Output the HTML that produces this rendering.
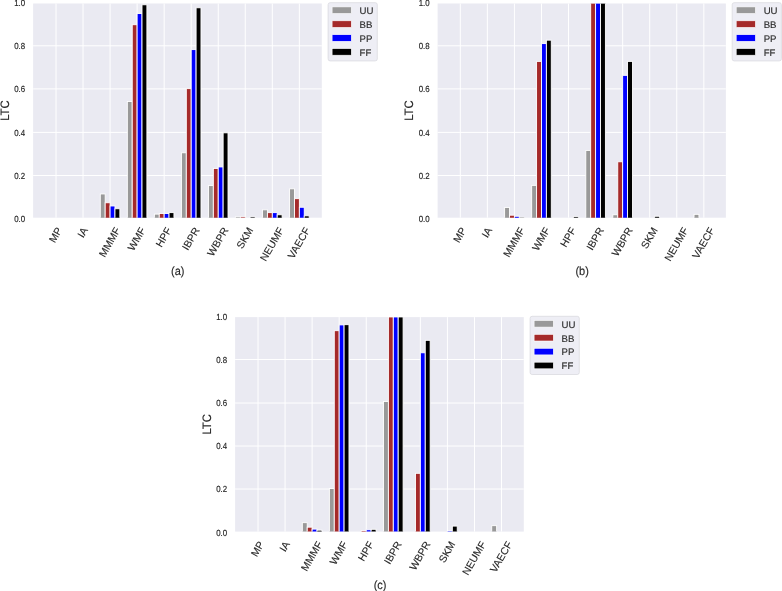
<!DOCTYPE html>
<html><head><meta charset="utf-8"><style>
html,body{margin:0;padding:0;background:#fff;}
svg{display:block;}
text{font-family:"Liberation Sans",sans-serif;fill:#262626;}
svg{will-change:transform;}
text{text-rendering:geometricPrecision;}
text{stroke:#262626;stroke-width:0.12px;}
.tk{stroke-width:0.15px;}
</style></head><body>
<svg width="782" height="591" viewBox="0 0 782 591">
<clipPath id="clipa"><rect x="33.1" y="3.5" width="288.7" height="214.2"/></clipPath>
<rect x="33.1" y="3.5" width="288.7" height="214.2" fill="#EAEAF2"/>
<line x1="33.1" y1="175.5" x2="321.8" y2="175.5" stroke="#fff" stroke-width="1.0"/>
<line x1="33.1" y1="132.4" x2="321.8" y2="132.4" stroke="#fff" stroke-width="1.0"/>
<line x1="33.1" y1="88.9" x2="321.8" y2="88.9" stroke="#fff" stroke-width="1.0"/>
<line x1="33.1" y1="45.8" x2="321.8" y2="45.8" stroke="#fff" stroke-width="1.0"/>
<line x1="56" y1="3.5" x2="56" y2="217.7" stroke="#fff" stroke-width="1.0"/>
<line x1="83.04" y1="3.5" x2="83.04" y2="217.7" stroke="#fff" stroke-width="1.0"/>
<line x1="110.08" y1="3.5" x2="110.08" y2="217.7" stroke="#fff" stroke-width="1.0"/>
<line x1="137.12" y1="3.5" x2="137.12" y2="217.7" stroke="#fff" stroke-width="1.0"/>
<line x1="164.16" y1="3.5" x2="164.16" y2="217.7" stroke="#fff" stroke-width="1.0"/>
<line x1="191.2" y1="3.5" x2="191.2" y2="217.7" stroke="#fff" stroke-width="1.0"/>
<line x1="218.24" y1="3.5" x2="218.24" y2="217.7" stroke="#fff" stroke-width="1.0"/>
<line x1="245.28" y1="3.5" x2="245.28" y2="217.7" stroke="#fff" stroke-width="1.0"/>
<line x1="272.32" y1="3.5" x2="272.32" y2="217.7" stroke="#fff" stroke-width="1.0"/>
<line x1="299.36" y1="3.5" x2="299.36" y2="217.7" stroke="#fff" stroke-width="1.0"/>
<rect x="100.29" y="193.95" width="4.89" height="24.54" fill="#999999" stroke="#fff" stroke-width="0.9" clip-path="url(#clipa)"/>
<rect x="105.19" y="202.75" width="4.89" height="15.75" fill="#A52A2A" stroke="#fff" stroke-width="0.9" clip-path="url(#clipa)"/>
<rect x="110.08" y="205.97" width="4.89" height="12.53" fill="#0000FF" stroke="#fff" stroke-width="0.9" clip-path="url(#clipa)"/>
<rect x="114.97" y="208.76" width="4.89" height="9.74" fill="#000000" stroke="#fff" stroke-width="0.9" clip-path="url(#clipa)"/>
<rect x="127.33" y="101.51" width="4.89" height="116.99" fill="#999999" stroke="#fff" stroke-width="0.9" clip-path="url(#clipa)"/>
<rect x="132.23" y="24.71" width="4.89" height="193.79" fill="#A52A2A" stroke="#fff" stroke-width="0.9" clip-path="url(#clipa)"/>
<rect x="137.12" y="13.56" width="4.89" height="204.94" fill="#0000FF" stroke="#fff" stroke-width="0.9" clip-path="url(#clipa)"/>
<rect x="142.01" y="4.77" width="4.89" height="213.73" fill="#000000" stroke="#fff" stroke-width="0.9" clip-path="url(#clipa)"/>
<rect x="154.37" y="214.12" width="4.89" height="4.38" fill="#999999" stroke="#fff" stroke-width="0.9" clip-path="url(#clipa)"/>
<rect x="159.27" y="213.47" width="4.89" height="5.03" fill="#A52A2A" stroke="#fff" stroke-width="0.9" clip-path="url(#clipa)"/>
<rect x="164.16" y="213.47" width="4.89" height="5.03" fill="#0000FF" stroke="#fff" stroke-width="0.9" clip-path="url(#clipa)"/>
<rect x="169.05" y="212.62" width="4.89" height="5.88" fill="#000000" stroke="#fff" stroke-width="0.9" clip-path="url(#clipa)"/>
<rect x="181.41" y="152.77" width="4.89" height="65.73" fill="#999999" stroke="#fff" stroke-width="0.9" clip-path="url(#clipa)"/>
<rect x="186.31" y="88.64" width="4.89" height="129.86" fill="#A52A2A" stroke="#fff" stroke-width="0.9" clip-path="url(#clipa)"/>
<rect x="191.2" y="49.6" width="4.89" height="168.9" fill="#0000FF" stroke="#fff" stroke-width="0.9" clip-path="url(#clipa)"/>
<rect x="196.09" y="7.77" width="4.89" height="210.73" fill="#000000" stroke="#fff" stroke-width="0.9" clip-path="url(#clipa)"/>
<rect x="208.45" y="185.59" width="4.89" height="32.91" fill="#999999" stroke="#fff" stroke-width="0.9" clip-path="url(#clipa)"/>
<rect x="213.35" y="168.43" width="4.89" height="50.07" fill="#A52A2A" stroke="#fff" stroke-width="0.9" clip-path="url(#clipa)"/>
<rect x="218.24" y="166.93" width="4.89" height="51.57" fill="#0000FF" stroke="#fff" stroke-width="0.9" clip-path="url(#clipa)"/>
<rect x="223.13" y="132.82" width="4.89" height="85.68" fill="#000000" stroke="#fff" stroke-width="0.9" clip-path="url(#clipa)"/>
<rect x="235.49" y="216.91" width="4.89" height="1.59" fill="#999999" stroke="#fff" stroke-width="0.9" clip-path="url(#clipa)"/>
<rect x="240.39" y="216.91" width="4.89" height="1.59" fill="#A52A2A" stroke="#fff" stroke-width="0.9" clip-path="url(#clipa)"/>
<rect x="250.17" y="216.91" width="4.89" height="1.59" fill="#000000" stroke="#fff" stroke-width="0.9" clip-path="url(#clipa)"/>
<rect x="262.53" y="209.83" width="4.89" height="8.67" fill="#999999" stroke="#fff" stroke-width="0.9" clip-path="url(#clipa)"/>
<rect x="267.43" y="212.62" width="4.89" height="5.88" fill="#A52A2A" stroke="#fff" stroke-width="0.9" clip-path="url(#clipa)"/>
<rect x="272.32" y="212.62" width="4.89" height="5.88" fill="#0000FF" stroke="#fff" stroke-width="0.9" clip-path="url(#clipa)"/>
<rect x="277.21" y="214.76" width="4.89" height="3.74" fill="#000000" stroke="#fff" stroke-width="0.9" clip-path="url(#clipa)"/>
<rect x="289.57" y="188.81" width="4.89" height="29.69" fill="#999999" stroke="#fff" stroke-width="0.9" clip-path="url(#clipa)"/>
<rect x="294.47" y="198.67" width="4.89" height="19.83" fill="#A52A2A" stroke="#fff" stroke-width="0.9" clip-path="url(#clipa)"/>
<rect x="299.36" y="207.25" width="4.89" height="11.25" fill="#0000FF" stroke="#fff" stroke-width="0.9" clip-path="url(#clipa)"/>
<rect x="304.25" y="215.83" width="4.89" height="2.67" fill="#000000" stroke="#fff" stroke-width="0.9" clip-path="url(#clipa)"/>
<text transform="translate(25.1,221.69) scale(0.94,1.06)" text-anchor="end" font-size="8.4" class="tk">0.0</text>
<text transform="translate(25.1,178.69) scale(0.94,1.06)" text-anchor="end" font-size="8.4" class="tk">0.2</text>
<text transform="translate(25.1,135.59) scale(0.94,1.06)" text-anchor="end" font-size="8.4" class="tk">0.4</text>
<text transform="translate(25.1,92.09) scale(0.94,1.06)" text-anchor="end" font-size="8.4" class="tk">0.6</text>
<text transform="translate(25.1,48.99) scale(0.94,1.06)" text-anchor="end" font-size="8.4" class="tk">0.8</text>
<text transform="translate(25.1,5.99) scale(0.94,1.06)" text-anchor="end" font-size="8.4" class="tk">1.0</text>
<text transform="translate(55.4,234.92) rotate(-60)" x="0" y="3.72" text-anchor="middle" font-size="10.4">MP</text>
<text transform="translate(82.44,232.42) rotate(-60)" x="0" y="3.72" text-anchor="middle" font-size="10.4">IA</text>
<text transform="translate(109.48,242.17) rotate(-60)" x="0" y="3.72" text-anchor="middle" font-size="10.4">MMMF</text>
<text transform="translate(136.52,238.91) rotate(-60)" x="0" y="3.72" text-anchor="middle" font-size="10.4">WMF</text>
<text transform="translate(163.56,237.17) rotate(-60)" x="0" y="3.72" text-anchor="middle" font-size="10.4">HPF</text>
<text transform="translate(190.6,238.67) rotate(-60)" x="0" y="3.72" text-anchor="middle" font-size="10.4">IBPR</text>
<text transform="translate(217.64,241.67) rotate(-60)" x="0" y="3.72" text-anchor="middle" font-size="10.4">WBPR</text>
<text transform="translate(244.68,237.92) rotate(-60)" x="0" y="3.72" text-anchor="middle" font-size="10.4">SKM</text>
<text transform="translate(271.72,244.17) rotate(-60)" x="0" y="3.72" text-anchor="middle" font-size="10.4">NEUMF</text>
<text transform="translate(298.76,242.84) rotate(-60)" x="0" y="3.72" text-anchor="middle" font-size="10.4">VAECF</text>
<text transform="translate(8.7,110.6) rotate(-90) scale(1,1.08)" x="0" y="0" text-anchor="middle" font-size="11.3">LTC</text>
<rect x="328.1" y="2.7" width="49.2" height="58.2" rx="2" fill="#EEEEF5" stroke="#DADADF" stroke-width="0.8"/>
<rect x="332.1" y="6.9" width="19.2" height="6.6" fill="#999999" stroke="#fff" stroke-width="0.6"/>
<text x="359.6" y="14" font-size="9.6">UU</text>
<rect x="332.1" y="20.8" width="19.2" height="6.6" fill="#A52A2A" stroke="#fff" stroke-width="0.6"/>
<text x="359.6" y="27.9" font-size="9.6">BB</text>
<rect x="332.1" y="34.7" width="19.2" height="6.6" fill="#0000FF" stroke="#fff" stroke-width="0.6"/>
<text x="359.6" y="41.8" font-size="9.6">PP</text>
<rect x="332.1" y="48.6" width="19.2" height="6.6" fill="#000000" stroke="#fff" stroke-width="0.6"/>
<text x="359.6" y="55.7" font-size="9.6">FF</text>
<text transform="translate(177.7,275.2) scale(1,1.08)" text-anchor="middle" font-size="11.0">(a)</text>
<clipPath id="clipb"><rect x="437.6" y="3.5" width="288.3" height="214.2"/></clipPath>
<rect x="437.6" y="3.5" width="288.3" height="214.2" fill="#EAEAF2"/>
<line x1="437.6" y1="175.5" x2="725.9" y2="175.5" stroke="#fff" stroke-width="1.0"/>
<line x1="437.6" y1="132.4" x2="725.9" y2="132.4" stroke="#fff" stroke-width="1.0"/>
<line x1="437.6" y1="88.9" x2="725.9" y2="88.9" stroke="#fff" stroke-width="1.0"/>
<line x1="437.6" y1="45.8" x2="725.9" y2="45.8" stroke="#fff" stroke-width="1.0"/>
<line x1="460.3" y1="3.5" x2="460.3" y2="217.7" stroke="#fff" stroke-width="1.0"/>
<line x1="487.36" y1="3.5" x2="487.36" y2="217.7" stroke="#fff" stroke-width="1.0"/>
<line x1="514.42" y1="3.5" x2="514.42" y2="217.7" stroke="#fff" stroke-width="1.0"/>
<line x1="541.48" y1="3.5" x2="541.48" y2="217.7" stroke="#fff" stroke-width="1.0"/>
<line x1="568.54" y1="3.5" x2="568.54" y2="217.7" stroke="#fff" stroke-width="1.0"/>
<line x1="595.6" y1="3.5" x2="595.6" y2="217.7" stroke="#fff" stroke-width="1.0"/>
<line x1="622.66" y1="3.5" x2="622.66" y2="217.7" stroke="#fff" stroke-width="1.0"/>
<line x1="649.72" y1="3.5" x2="649.72" y2="217.7" stroke="#fff" stroke-width="1.0"/>
<line x1="676.78" y1="3.5" x2="676.78" y2="217.7" stroke="#fff" stroke-width="1.0"/>
<line x1="703.84" y1="3.5" x2="703.84" y2="217.7" stroke="#fff" stroke-width="1.0"/>
<rect x="504.62" y="207.47" width="4.9" height="11.03" fill="#999999" stroke="#fff" stroke-width="0.9" clip-path="url(#clipb)"/>
<rect x="509.52" y="215.19" width="4.9" height="3.31" fill="#A52A2A" stroke="#fff" stroke-width="0.9" clip-path="url(#clipb)"/>
<rect x="514.42" y="216.26" width="4.9" height="2.24" fill="#0000FF" stroke="#fff" stroke-width="0.9" clip-path="url(#clipb)"/>
<rect x="519.32" y="217.34" width="4.9" height="1.16" fill="#000000" stroke="#fff" stroke-width="0.9" clip-path="url(#clipb)"/>
<rect x="531.68" y="185.38" width="4.9" height="33.12" fill="#999999" stroke="#fff" stroke-width="0.9" clip-path="url(#clipb)"/>
<rect x="536.58" y="61.39" width="4.9" height="157.11" fill="#A52A2A" stroke="#fff" stroke-width="0.9" clip-path="url(#clipb)"/>
<rect x="541.48" y="43.59" width="4.9" height="174.91" fill="#0000FF" stroke="#fff" stroke-width="0.9" clip-path="url(#clipb)"/>
<rect x="546.38" y="40.16" width="4.9" height="178.34" fill="#000000" stroke="#fff" stroke-width="0.9" clip-path="url(#clipb)"/>
<rect x="573.44" y="216.69" width="4.9" height="1.81" fill="#000000" stroke="#fff" stroke-width="0.9" clip-path="url(#clipb)"/>
<rect x="585.8" y="150.41" width="4.9" height="68.09" fill="#999999" stroke="#fff" stroke-width="0.9" clip-path="url(#clipb)"/>
<rect x="590.7" y="3.05" width="4.9" height="215.45" fill="#A52A2A" stroke="#fff" stroke-width="0.9" clip-path="url(#clipb)"/>
<rect x="595.6" y="3.05" width="4.9" height="215.45" fill="#0000FF" stroke="#fff" stroke-width="0.9" clip-path="url(#clipb)"/>
<rect x="600.5" y="3.05" width="4.9" height="215.45" fill="#000000" stroke="#fff" stroke-width="0.9" clip-path="url(#clipb)"/>
<rect x="612.86" y="214.76" width="4.9" height="3.74" fill="#999999" stroke="#fff" stroke-width="0.9" clip-path="url(#clipb)"/>
<rect x="617.76" y="161.78" width="4.9" height="56.72" fill="#A52A2A" stroke="#fff" stroke-width="0.9" clip-path="url(#clipb)"/>
<rect x="622.66" y="75.34" width="4.9" height="143.16" fill="#0000FF" stroke="#fff" stroke-width="0.9" clip-path="url(#clipb)"/>
<rect x="627.56" y="61.39" width="4.9" height="157.11" fill="#000000" stroke="#fff" stroke-width="0.9" clip-path="url(#clipb)"/>
<rect x="654.62" y="216.26" width="4.9" height="2.24" fill="#000000" stroke="#fff" stroke-width="0.9" clip-path="url(#clipb)"/>
<rect x="694.04" y="214.33" width="4.9" height="4.17" fill="#999999" stroke="#fff" stroke-width="0.9" clip-path="url(#clipb)"/>
<text transform="translate(429.6,221.69) scale(0.94,1.06)" text-anchor="end" font-size="8.4" class="tk">0.0</text>
<text transform="translate(429.6,178.69) scale(0.94,1.06)" text-anchor="end" font-size="8.4" class="tk">0.2</text>
<text transform="translate(429.6,135.59) scale(0.94,1.06)" text-anchor="end" font-size="8.4" class="tk">0.4</text>
<text transform="translate(429.6,92.09) scale(0.94,1.06)" text-anchor="end" font-size="8.4" class="tk">0.6</text>
<text transform="translate(429.6,48.99) scale(0.94,1.06)" text-anchor="end" font-size="8.4" class="tk">0.8</text>
<text transform="translate(429.6,5.99) scale(0.94,1.06)" text-anchor="end" font-size="8.4" class="tk">1.0</text>
<text transform="translate(459.7,234.92) rotate(-60)" x="0" y="3.72" text-anchor="middle" font-size="10.4">MP</text>
<text transform="translate(486.76,232.42) rotate(-60)" x="0" y="3.72" text-anchor="middle" font-size="10.4">IA</text>
<text transform="translate(513.82,242.17) rotate(-60)" x="0" y="3.72" text-anchor="middle" font-size="10.4">MMMF</text>
<text transform="translate(540.88,238.91) rotate(-60)" x="0" y="3.72" text-anchor="middle" font-size="10.4">WMF</text>
<text transform="translate(567.94,237.17) rotate(-60)" x="0" y="3.72" text-anchor="middle" font-size="10.4">HPF</text>
<text transform="translate(595,238.67) rotate(-60)" x="0" y="3.72" text-anchor="middle" font-size="10.4">IBPR</text>
<text transform="translate(622.06,241.67) rotate(-60)" x="0" y="3.72" text-anchor="middle" font-size="10.4">WBPR</text>
<text transform="translate(649.12,237.92) rotate(-60)" x="0" y="3.72" text-anchor="middle" font-size="10.4">SKM</text>
<text transform="translate(676.18,244.17) rotate(-60)" x="0" y="3.72" text-anchor="middle" font-size="10.4">NEUMF</text>
<text transform="translate(703.24,242.84) rotate(-60)" x="0" y="3.72" text-anchor="middle" font-size="10.4">VAECF</text>
<text transform="translate(413.2,110.6) rotate(-90) scale(1,1.08)" x="0" y="0" text-anchor="middle" font-size="11.3">LTC</text>
<rect x="732.2" y="2.7" width="49.2" height="58.2" rx="2" fill="#EEEEF5" stroke="#DADADF" stroke-width="0.8"/>
<rect x="736.2" y="6.9" width="19.2" height="6.6" fill="#999999" stroke="#fff" stroke-width="0.6"/>
<text x="763.7" y="14" font-size="9.6">UU</text>
<rect x="736.2" y="20.8" width="19.2" height="6.6" fill="#A52A2A" stroke="#fff" stroke-width="0.6"/>
<text x="763.7" y="27.9" font-size="9.6">BB</text>
<rect x="736.2" y="34.7" width="19.2" height="6.6" fill="#0000FF" stroke="#fff" stroke-width="0.6"/>
<text x="763.7" y="41.8" font-size="9.6">PP</text>
<rect x="736.2" y="48.6" width="19.2" height="6.6" fill="#000000" stroke="#fff" stroke-width="0.6"/>
<text x="763.7" y="55.7" font-size="9.6">FF</text>
<text transform="translate(582.1,275.2) scale(1,1.08)" text-anchor="middle" font-size="11.0">(b)</text>
<clipPath id="clipc"><rect x="235.1" y="317.1" width="288.7" height="214.5"/></clipPath>
<rect x="235.1" y="317.1" width="288.7" height="214.5" fill="#EAEAF2"/>
<line x1="235.1" y1="489" x2="523.8" y2="489" stroke="#fff" stroke-width="1.0"/>
<line x1="235.1" y1="446" x2="523.8" y2="446" stroke="#fff" stroke-width="1.0"/>
<line x1="235.1" y1="403" x2="523.8" y2="403" stroke="#fff" stroke-width="1.0"/>
<line x1="235.1" y1="359.5" x2="523.8" y2="359.5" stroke="#fff" stroke-width="1.0"/>
<line x1="258" y1="317.1" x2="258" y2="531.6" stroke="#fff" stroke-width="1.0"/>
<line x1="285.06" y1="317.1" x2="285.06" y2="531.6" stroke="#fff" stroke-width="1.0"/>
<line x1="312.12" y1="317.1" x2="312.12" y2="531.6" stroke="#fff" stroke-width="1.0"/>
<line x1="339.18" y1="317.1" x2="339.18" y2="531.6" stroke="#fff" stroke-width="1.0"/>
<line x1="366.24" y1="317.1" x2="366.24" y2="531.6" stroke="#fff" stroke-width="1.0"/>
<line x1="393.3" y1="317.1" x2="393.3" y2="531.6" stroke="#fff" stroke-width="1.0"/>
<line x1="420.36" y1="317.1" x2="420.36" y2="531.6" stroke="#fff" stroke-width="1.0"/>
<line x1="447.42" y1="317.1" x2="447.42" y2="531.6" stroke="#fff" stroke-width="1.0"/>
<line x1="474.48" y1="317.1" x2="474.48" y2="531.6" stroke="#fff" stroke-width="1.0"/>
<line x1="501.54" y1="317.1" x2="501.54" y2="531.6" stroke="#fff" stroke-width="1.0"/>
<rect x="302.32" y="522.66" width="4.9" height="9.74" fill="#999999" stroke="#fff" stroke-width="0.9" clip-path="url(#clipc)"/>
<rect x="307.22" y="527.16" width="4.9" height="5.24" fill="#A52A2A" stroke="#fff" stroke-width="0.9" clip-path="url(#clipc)"/>
<rect x="312.12" y="529.09" width="4.9" height="3.31" fill="#0000FF" stroke="#fff" stroke-width="0.9" clip-path="url(#clipc)"/>
<rect x="317.02" y="530.16" width="4.9" height="2.24" fill="#000000" stroke="#fff" stroke-width="0.9" clip-path="url(#clipc)"/>
<rect x="329.38" y="488.55" width="4.9" height="43.85" fill="#999999" stroke="#fff" stroke-width="0.9" clip-path="url(#clipc)"/>
<rect x="334.28" y="330.68" width="4.9" height="201.72" fill="#A52A2A" stroke="#fff" stroke-width="0.9" clip-path="url(#clipc)"/>
<rect x="339.18" y="324.89" width="4.9" height="207.51" fill="#0000FF" stroke="#fff" stroke-width="0.9" clip-path="url(#clipc)"/>
<rect x="344.08" y="324.67" width="4.9" height="207.73" fill="#000000" stroke="#fff" stroke-width="0.9" clip-path="url(#clipc)"/>
<rect x="361.34" y="530.59" width="4.9" height="1.81" fill="#A52A2A" stroke="#fff" stroke-width="0.9" clip-path="url(#clipc)"/>
<rect x="366.24" y="529.73" width="4.9" height="2.67" fill="#0000FF" stroke="#fff" stroke-width="0.9" clip-path="url(#clipc)"/>
<rect x="371.14" y="529.31" width="4.9" height="3.09" fill="#000000" stroke="#fff" stroke-width="0.9" clip-path="url(#clipc)"/>
<rect x="383.5" y="401.46" width="4.9" height="130.94" fill="#999999" stroke="#fff" stroke-width="0.9" clip-path="url(#clipc)"/>
<rect x="388.4" y="316.95" width="4.9" height="215.45" fill="#A52A2A" stroke="#fff" stroke-width="0.9" clip-path="url(#clipc)"/>
<rect x="393.3" y="316.95" width="4.9" height="215.45" fill="#0000FF" stroke="#fff" stroke-width="0.9" clip-path="url(#clipc)"/>
<rect x="398.2" y="316.95" width="4.9" height="215.45" fill="#000000" stroke="#fff" stroke-width="0.9" clip-path="url(#clipc)"/>
<rect x="415.46" y="473.32" width="4.9" height="59.08" fill="#A52A2A" stroke="#fff" stroke-width="0.9" clip-path="url(#clipc)"/>
<rect x="420.36" y="352.77" width="4.9" height="179.63" fill="#0000FF" stroke="#fff" stroke-width="0.9" clip-path="url(#clipc)"/>
<rect x="425.26" y="340.33" width="4.9" height="192.07" fill="#000000" stroke="#fff" stroke-width="0.9" clip-path="url(#clipc)"/>
<rect x="447.42" y="531.02" width="4.9" height="1.38" fill="#0000FF" stroke="#fff" stroke-width="0.9" clip-path="url(#clipc)"/>
<rect x="452.32" y="526.09" width="4.9" height="6.31" fill="#000000" stroke="#fff" stroke-width="0.9" clip-path="url(#clipc)"/>
<rect x="491.74" y="525.66" width="4.9" height="6.74" fill="#999999" stroke="#fff" stroke-width="0.9" clip-path="url(#clipc)"/>
<text transform="translate(227.1,535.59) scale(0.94,1.06)" text-anchor="end" font-size="8.4" class="tk">0.0</text>
<text transform="translate(227.1,492.19) scale(0.94,1.06)" text-anchor="end" font-size="8.4" class="tk">0.2</text>
<text transform="translate(227.1,449.19) scale(0.94,1.06)" text-anchor="end" font-size="8.4" class="tk">0.4</text>
<text transform="translate(227.1,406.19) scale(0.94,1.06)" text-anchor="end" font-size="8.4" class="tk">0.6</text>
<text transform="translate(227.1,362.69) scale(0.94,1.06)" text-anchor="end" font-size="8.4" class="tk">0.8</text>
<text transform="translate(227.1,319.59) scale(0.94,1.06)" text-anchor="end" font-size="8.4" class="tk">1.0</text>
<text transform="translate(257.4,548.82) rotate(-60)" x="0" y="3.72" text-anchor="middle" font-size="10.4">MP</text>
<text transform="translate(284.46,546.32) rotate(-60)" x="0" y="3.72" text-anchor="middle" font-size="10.4">IA</text>
<text transform="translate(311.52,556.07) rotate(-60)" x="0" y="3.72" text-anchor="middle" font-size="10.4">MMMF</text>
<text transform="translate(338.58,552.81) rotate(-60)" x="0" y="3.72" text-anchor="middle" font-size="10.4">WMF</text>
<text transform="translate(365.64,551.07) rotate(-60)" x="0" y="3.72" text-anchor="middle" font-size="10.4">HPF</text>
<text transform="translate(392.7,552.57) rotate(-60)" x="0" y="3.72" text-anchor="middle" font-size="10.4">IBPR</text>
<text transform="translate(419.76,555.57) rotate(-60)" x="0" y="3.72" text-anchor="middle" font-size="10.4">WBPR</text>
<text transform="translate(446.82,551.82) rotate(-60)" x="0" y="3.72" text-anchor="middle" font-size="10.4">SKM</text>
<text transform="translate(473.88,558.07) rotate(-60)" x="0" y="3.72" text-anchor="middle" font-size="10.4">NEUMF</text>
<text transform="translate(500.94,556.74) rotate(-60)" x="0" y="3.72" text-anchor="middle" font-size="10.4">VAECF</text>
<text transform="translate(210.7,424.35) rotate(-90) scale(1,1.08)" x="0" y="0" text-anchor="middle" font-size="11.3">LTC</text>
<rect x="530.1" y="316.3" width="49.2" height="58.2" rx="2" fill="#EEEEF5" stroke="#DADADF" stroke-width="0.8"/>
<rect x="534.1" y="320.5" width="19.2" height="6.6" fill="#999999" stroke="#fff" stroke-width="0.6"/>
<text x="561.6" y="327.6" font-size="9.6">UU</text>
<rect x="534.1" y="334.4" width="19.2" height="6.6" fill="#A52A2A" stroke="#fff" stroke-width="0.6"/>
<text x="561.6" y="341.5" font-size="9.6">BB</text>
<rect x="534.1" y="348.3" width="19.2" height="6.6" fill="#0000FF" stroke="#fff" stroke-width="0.6"/>
<text x="561.6" y="355.4" font-size="9.6">PP</text>
<rect x="534.1" y="362.2" width="19.2" height="6.6" fill="#000000" stroke="#fff" stroke-width="0.6"/>
<text x="561.6" y="369.3" font-size="9.6">FF</text>
<text transform="translate(380.1,589.1) scale(1,1.08)" text-anchor="middle" font-size="11.0">(c)</text>
</svg>
</body></html>
